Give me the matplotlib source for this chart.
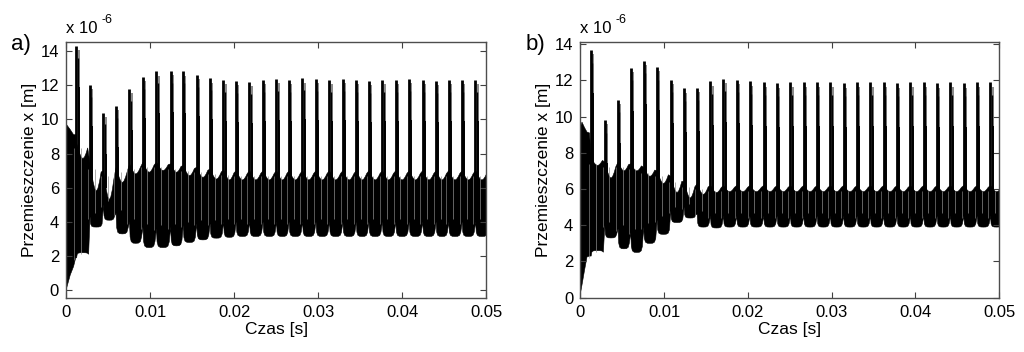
import numpy as np
import matplotlib
matplotlib.use('Agg')
import matplotlib.pyplot as plt

plt.rcParams['font.family'] = ['Liberation Sans', 'DejaVu Sans']

# ---------------- data (time in s, displacement in 1e-6 m) ----------------
x_ticks = [0, 0.01, 0.02, 0.03, 0.04, 0.05]
x_tick_labels = ['0', '0.01', '0.02', '0.03', '0.04', '0.05']
y_ticks = [0, 2, 4, 6, 8, 10, 12, 14]

# panel a) -- spikes
spike_t_a = [0.0012, 0.0028, 0.0044, 0.0059, 0.0075, 0.0091, 0.0107, 0.0124, 0.0139,
             0.0155, 0.0171, 0.0187, 0.0202, 0.0218, 0.0234, 0.0250, 0.0265, 0.0281,
             0.0297, 0.0313, 0.0329, 0.0345, 0.0360, 0.0376, 0.0392, 0.0408, 0.0424,
             0.0440, 0.0455, 0.0471, 0.0487]
spike_h_a = [14.3, 12.0, 10.4, 10.8, 11.8, 12.5, 12.8, 12.85, 12.8, 12.6, 12.4, 12.3,
             12.25, 12.2, 12.3, 12.35, 12.3, 12.4, 12.35, 12.3, 12.35, 12.3, 12.25, 12.3,
             12.3, 12.35, 12.3, 12.25, 12.3, 12.3, 12.3]
# panel a) -- dense oscillation band, one value per spike cycle
top_hi_a = [8.6, 7.4, 7.0, 7.2, 7.4, 7.5, 7.5, 7.4, 7.3, 7.2, 7.1, 7.05, 7.0, 7.0, 7.0, 7.0,
            7.0, 7.0, 7.0, 7.0, 7.0, 7.0, 7.0, 7.0, 7.0, 7.0, 7.0, 7.0, 7.0, 7.0, 7.0]
top_lo_a = [7.7, 5.8, 5.3, 6.3, 6.8, 6.9, 7.0, 6.9, 6.7, 6.6, 6.5, 6.45, 6.45, 6.45, 6.45,
            6.45, 6.45, 6.45, 6.45, 6.45, 6.45, 6.45, 6.45, 6.45, 6.45, 6.45, 6.45, 6.45,
            6.45, 6.45, 6.45]
bot_lo_a = [2.2, 3.7, 4.1, 3.3, 2.75, 2.5, 2.5, 2.6, 2.8, 2.95, 3.05, 3.1, 3.15, 3.15, 3.15,
            3.15, 3.15, 3.15, 3.15, 3.15, 3.15, 3.15, 3.15, 3.15, 3.15, 3.15, 3.15, 3.15,
            3.15, 3.15, 3.15]
bot_hi_a = [1.9, 4.3, 5.0, 4.5, 4.0, 3.7, 3.6, 3.7, 3.8, 3.9, 3.9, 4.0, 4.0, 4.0, 4.0, 4.0,
            4.0, 4.0, 4.0, 4.0, 4.0, 4.0, 4.0, 4.0, 4.0, 4.0, 4.0, 4.0, 4.0, 4.0, 4.0]
# panel a) -- start-up transient before the first spike
start_t_a = [0.0, 0.00005, 0.0005, 0.0009, 0.00115]
start_top_a = [9.5, 9.7, 9.4, 9.1, 9.1]
start_bot_a = [-0.43, 0.1, 0.9, 1.4, 1.9]

# panel b) -- spikes
spike_t_b = [0.00124, 0.00287, 0.00446, 0.00597, 0.00752, 0.00912, 0.01075, 0.01235,
             0.0139, 0.01549, 0.01704, 0.01863, 0.0202, 0.02185, 0.02345, 0.02504,
             0.02663, 0.02823, 0.02982, 0.0314, 0.033, 0.0346, 0.03618, 0.03778,
             0.03937, 0.04096, 0.04256, 0.04415, 0.04574, 0.04734, 0.04893]
spike_h_b = [13.69, 9.82, 10.93, 12.7, 13.1, 12.75, 12.05, 11.56, 11.6, 11.95, 12.09, 12.05,
             11.95, 11.9, 11.85, 11.9, 11.9, 11.9, 11.9, 11.85, 11.9, 11.9, 11.9, 11.85,
             11.9, 11.9, 11.85, 11.9, 11.85, 11.9, 11.9]
top_hi_b = [7.7, 7.5, 7.5, 7.4, 7.2, 7.0, 6.7, 6.4, 6.3, 6.2, 6.2, 6.2, 6.2, 6.2, 6.2, 6.2,
            6.2, 6.2, 6.2, 6.2, 6.2, 6.2, 6.2, 6.2, 6.2, 6.2, 6.2, 6.2, 6.2, 6.2, 6.2]
top_lo_b = [7.3, 6.6, 7.0, 7.0, 6.7, 6.3, 5.8, 5.5, 5.7, 5.8, 5.85, 5.85, 5.85, 5.85, 5.85,
            5.85, 5.85, 5.85, 5.85, 5.85, 5.85, 5.85, 5.85, 5.85, 5.85, 5.85, 5.85, 5.85,
            5.85, 5.85, 5.85]
bot_lo_b = [2.6, 3.3, 2.7, 2.5, 3.0, 3.5, 4.15, 4.4, 3.9, 3.85, 3.9, 3.9, 3.9, 3.9, 3.9,
            3.9, 3.9, 3.9, 3.9, 3.9, 3.9, 3.9, 3.9, 3.9, 3.9, 3.9, 3.9, 3.9, 3.9, 3.9, 3.9]
bot_hi_b = [2.3, 4.0, 3.8, 3.6, 3.9, 4.3, 4.8, 5.0, 4.6, 4.5, 4.5, 4.5, 4.5, 4.5, 4.5, 4.5,
            4.5, 4.5, 4.5, 4.5, 4.5, 4.5, 4.5, 4.5, 4.5, 4.5, 4.5, 4.5, 4.5, 4.5, 4.5]
start_t_b = [0.0, 0.0002, 0.0005, 0.0008, 0.0011]
start_top_b = [9.4, 9.7, 9.4, 9.15, 9.1]
start_bot_b = [0.2, 0.7, 1.5, 2.25, 2.3]

# ---------------- drawing style ----------------
TOP_PH = [0.04, 0.14, 0.26, 0.38, 0.5, 0.62, 0.74, 0.86]
TOP_W = [0.0, 0.3, 0.65, 0.9, 1.0, 0.9, 0.65, 0.3]
BOT_PH = [0.035, 0.08, 0.16, 0.3, 0.5, 0.7, 0.84, 0.93]
BOT_W = [0.0, 0.7, 0.92, 0.99, 1.0, 0.99, 0.92, 0.7]
PX = 0.05 / 420.0  # seconds per pixel


def draw_panel(ax, spike_t, spike_h, top_hi, top_lo, bot_lo, bot_hi,
               start_t, start_top, start_bot):
    n = len(spike_t)
    tt, yt = list(start_t), list(start_top)
    tb, yb = list(start_t), list(start_bot)
    for k in range(n):
        ts = spike_t[k]
        tn = spike_t[k + 1] if k + 1 < n else ts + (spike_t[k] - spike_t[k - 1])
        p = tn - ts
        for ph, w in zip(TOP_PH, TOP_W):
            tt.append(ts + ph * p)
            yt.append(top_hi[k] - w * (top_hi[k] - top_lo[k]))
        for ph, w in zip(BOT_PH, BOT_W):
            tb.append(ts + ph * p)
            yb.append(bot_hi[k] - w * (bot_hi[k] - bot_lo[k]))
    poly_t = tt + tb[::-1]
    poly_y = yt + yb[::-1]
    ax.fill(poly_t, poly_y, color='black', lw=0.4, ec='black')

    st = np.array(spike_t)
    sh = np.array(spike_h)
    base = np.array(top_hi) - 1.0
    # faint inner lines of the oscillation
    ax.vlines(st + 5.0 * PX, np.array(bot_hi) + 0.2, np.array(top_hi) - 0.3,
              color='0.55', lw=0.5)
    ax.vlines(st - 1.8 * PX, np.array(bot_hi) - 0.1, np.array(top_hi) - 0.3,
              color='0.6', lw=0.4)
    # secondary (grey) peak just after each spike
    ax.vlines(st + 2.6 * PX, base, sh - 2.4, color='black', lw=1.4)
    ax.vlines(st + 2.6 * PX, sh - 2.4, sh - 0.25, color='0.5', lw=1.3)
    # main spike
    ax.vlines(st + 0.3 * PX, base, sh, color='black', lw=2.0)
    ax.vlines(st + 1.6 * PX, base, sh - 0.7, color='black', lw=1.0)


fig = plt.figure(figsize=(10.24, 3.52), dpi=100)
ax_a = fig.add_axes([0.0645, 0.1543, 0.4102, 0.7272])
ax_b = fig.add_axes([0.5667, 0.1543, 0.4089, 0.7272])

draw_panel(ax_a, spike_t_a, spike_h_a, top_hi_a, top_lo_a, bot_lo_a, bot_hi_a,
           start_t_a, start_top_a, start_bot_a)
draw_panel(ax_b, spike_t_b, spike_h_b, top_hi_b, top_lo_b, bot_lo_b, bot_hi_b,
           start_t_b, start_top_b, start_bot_b)

ax_a.set_ylim(-0.43, 14.54)
ax_b.set_ylim(0.2, 14.14)

for ax, lab in ((ax_a, 'a)'), (ax_b, 'b)')):
    ax.set_xlim(0, 0.05)
    ax.set_xticks(x_ticks)
    ax.set_xticklabels(x_tick_labels)
    ax.set_yticks(y_ticks)
    ax.tick_params(direction='in', top=True, right=True, length=4, width=0.8,
                   labelsize=12, color='0.25', pad=5)
    for s in ax.spines.values():
        s.set_color('0.3')
        s.set_linewidth(1.0)
    ax.set_xlabel('Czas [s]', fontsize=12.5, labelpad=2)
    ax.set_ylabel('Przemieszczenie x [m]', fontsize=12.5, labelpad=2.5)
    ax.annotate('x 10', xy=(0.0, 1.0), xycoords='axes fraction', xytext=(0, 4),
                textcoords='offset points', fontsize=12, ha='left', va='bottom')
    ax.annotate('-6', xy=(0.0, 1.0), xycoords='axes fraction', xytext=(25.5, 11),
                textcoords='offset points', fontsize=9, ha='left', va='bottom')
    ax.text(-0.13, 0.99, lab, transform=ax.transAxes, fontsize=16, ha='left', va='center')

fig.savefig('out.png', dpi=100)
